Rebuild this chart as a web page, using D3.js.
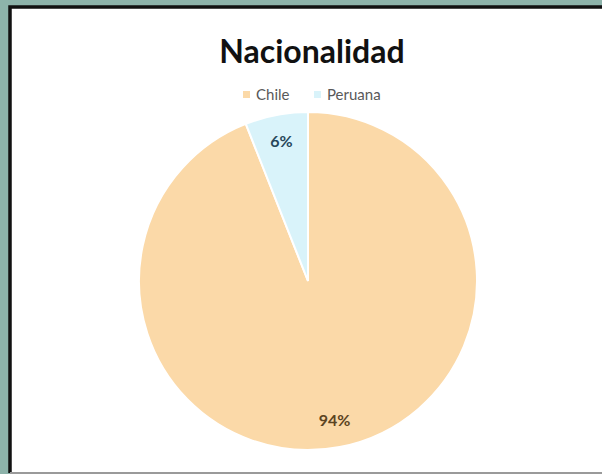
<!DOCTYPE html>
<html>
<head>
<meta charset="utf-8">
<script src="https://cdn.jsdelivr.net/npm/d3@7"></script>
<style>
  html, body { margin: 0; padding: 0; background: #8db3aa; }
  svg { display: block; }
</style>
</head>
<body>
<svg id="chart" width="602" height="474"></svg>
<script>
// Nationality breakdown
const categories = ["Chile", "Peruana"];
const values = [94, 6];
const labels = ["94%", "6%"];
const colors = ["#fbd9a8", "#d9f3fa"];
const labelColors = ["#5b4422", "#27475a"];

const svg = d3.select("#chart");
const W = 602, H = 474;

// Panel: white card framed on the top and left
svg.append("rect").attr("x", 0).attr("y", 0).attr("width", W).attr("height", H).attr("fill", "#8db3aa");
svg.append("rect")
  .attr("x", 10).attr("y", 7).attr("width", 600).attr("height", 465)
  .attr("fill", "#ffffff");
svg.append("path")
  .attr("d", "M10,473 L10,7 L610,7")
  .attr("fill", "none").attr("stroke", "#111111").attr("stroke-width", 3.5);
svg.append("line")
  .attr("x1", 10).attr("x2", W).attr("y1", 473).attr("y2", 473)
  .attr("stroke", "#9a9a9a").attr("stroke-width", 2);

// Title
svg.append("text")
  .attr("x", 312).attr("y", 63)
  .attr("text-anchor", "middle")
  .attr("font-family", "Lato, 'Open Sans', sans-serif")
  .attr("font-weight", "bold")
  .attr("font-size", 32)
  .attr("fill", "#111111")
  .text("Nacionalidad");

// Legend
const legendItems = [
  { name: categories[0], x: 243 },
  { name: categories[1], x: 314 }
];
const legend = svg.append("g");
legendItems.forEach((d, i) => {
  legend.append("rect")
    .attr("x", d.x).attr("y", 91).attr("width", 7).attr("height", 7)
    .attr("fill", colors[i]);
  legend.append("text")
    .attr("x", d.x + 13).attr("y", 100)
    .attr("font-family", "Lato, 'Open Sans', sans-serif")
    .attr("font-size", 15)
    .attr("fill", "#595959")
    .text(d.name);
});

// Pie
const cx = 308, cy = 281, r = 169;
const pie = d3.pie().sort(null).value(d => d)(values);
const arc = d3.arc().innerRadius(0).outerRadius(r);
const labelArc = d3.arc().innerRadius(r * 0.84).outerRadius(r * 0.84);

const g = svg.append("g").attr("transform", `translate(${cx},${cy})`);
g.selectAll("path")
  .data(pie)
  .join("path")
  .attr("d", arc)
  .attr("fill", (d, i) => colors[i])
  .attr("stroke", "#ffffff")
  .attr("stroke-width", 2);

g.selectAll("text.val")
  .data(pie)
  .join("text")
  .attr("class", "val")
  .attr("transform", d => `translate(${labelArc.centroid(d)})`)
  .attr("text-anchor", "middle")
  .attr("dy", "0.35em")
  .attr("font-family", "Lato, 'Open Sans', sans-serif")
  .attr("font-weight", "bold")
  .attr("font-size", 16)
  .attr("fill", (d, i) => labelColors[i])
  .text((d, i) => labels[i]);
</script>
</body>
</html>
